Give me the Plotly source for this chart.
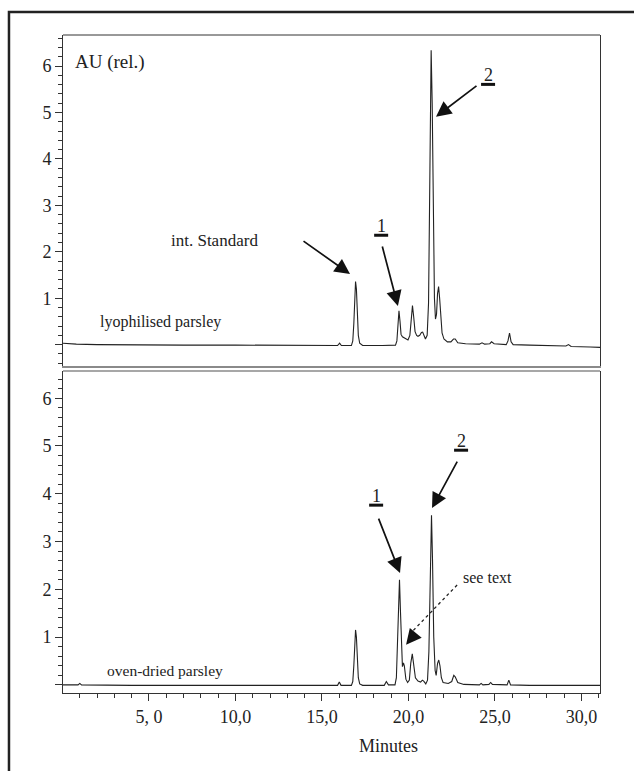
import plotly.graph_objects as go

# ---- data ----
t_lyo = [0.03, 0.8, 2.0, 4.0, 7.0, 10.0, 13.0, 15.0, 15.9, 16.02, 16.12, 16.7, 16.78, 16.84, 16.89, 16.94,
         16.99, 17.04, 17.1, 17.18, 17.35, 18.5, 19.25, 19.33, 19.39, 19.45, 19.51, 19.57, 19.65, 19.75,
         19.87, 19.97, 20.08, 20.16, 20.23, 20.3, 20.38, 20.47, 20.55, 20.65, 20.75, 20.82, 20.9, 20.98,
         21.08, 21.16, 21.24, 21.31, 21.37, 21.43, 21.5, 21.56, 21.62, 21.68, 21.74, 21.8, 21.86, 21.94,
         22.05, 22.25, 22.45, 22.6, 22.7, 22.85, 23.3, 24.1, 24.25, 24.4, 24.7, 24.8, 24.95, 25.65, 25.75,
         25.84, 25.93, 26.05, 27.0, 28.0, 29.1, 29.25, 29.4, 30.5, 31.07]
au_lyo = [0.03, 0.01, 0.0, -0.01, -0.01, -0.01, -0.02, -0.02, -0.02, 0.03, -0.02, -0.02, 0.08, 0.45, 1.05, 1.36,
          1.2, 0.7, 0.2, 0.03, -0.02, -0.02, -0.01, 0.08, 0.4, 0.73, 0.5, 0.22, 0.17, 0.15,
          0.13, 0.1, 0.2, 0.6, 0.84, 0.6, 0.28, 0.2, 0.18, 0.2, 0.26, 0.27, 0.18, 0.12,
          0.2, 0.9, 3.8, 6.34, 5.2, 2.8, 1.0, 0.55, 0.65, 1.1, 1.25, 1.0, 0.55, 0.25,
          0.12, 0.06, 0.06, 0.12, 0.12, 0.04, 0.02, 0.01, 0.04, 0.01, 0.02, 0.06, 0.02, 0.0, 0.08,
          0.25, 0.06, 0.0, -0.01, -0.02, -0.03, 0.0, -0.04, -0.05, -0.06]

t_oven = [0.03, 0.9, 1.0, 1.1, 4.0, 8.0, 12.0, 15.0, 15.9, 16.0, 16.1, 16.7, 16.78, 16.84, 16.89, 16.94,
          16.99, 17.04, 17.1, 17.18, 17.35, 18.6, 18.72, 18.84, 19.22, 19.3, 19.37, 19.43, 19.48, 19.54,
          19.6, 19.65, 19.71, 19.76, 19.85, 19.95, 20.05, 20.13, 20.22, 20.3, 20.4, 20.55, 20.7, 20.8,
          20.88, 21.0, 21.1, 21.18, 21.26, 21.33, 21.39, 21.46, 21.54, 21.6, 21.68, 21.75, 21.82, 21.9,
          22.0, 22.3, 22.5, 22.62, 22.7, 22.85, 23.2, 24.1, 24.2, 24.3, 24.65, 24.75, 24.85, 25.7, 25.8,
          25.9, 27.0, 29.0, 31.07]
au_oven = [0.0, 0.0, 0.03, 0.0, -0.01, -0.01, -0.01, -0.01, -0.01, 0.06, -0.01, -0.01, 0.07, 0.4, 0.9, 1.15,
           1.0, 0.55, 0.15, 0.02, -0.01, -0.01, 0.07, 0.0, 0.0, 0.15, 0.9, 1.8, 2.2, 1.5,
           0.6, 0.38, 0.46, 0.4, 0.12, 0.05, 0.1, 0.45, 0.65, 0.45, 0.15, 0.08, 0.06, 0.1,
           0.08, 0.02, 0.1, 0.7, 2.6, 3.55, 2.6, 1.0, 0.3, 0.2, 0.45, 0.52, 0.4, 0.15,
           0.05, 0.03, 0.07, 0.2, 0.17, 0.05, 0.01, 0.0, 0.03, 0.0, 0.01, 0.05, 0.01, 0.0, 0.1,
           0.0, -0.01, -0.01, -0.01]

x_tickvals = [5, 10, 15, 20, 25, 30]
x_ticktext = ["5, 0", "10,0", "15,0", "20,0", "25,0", "30,0"]
y_tickvals = [0, 1, 2, 3, 4, 5, 6]
y_ticktext = ["", "1", "2", "3", "4", "5", "6"]

FONT = "Liberation Serif"
INK = "#222222"
GRAY = "#8a8a8a"

fig = go.Figure()
fig.add_trace(go.Scatter(x=t_lyo, y=au_lyo, mode="lines", line=dict(color=INK, width=1.1),
                         xaxis="x", yaxis="y", showlegend=False, hoverinfo="skip"))
fig.add_trace(go.Scatter(x=t_oven, y=au_oven, mode="lines", line=dict(color=INK, width=1.1),
                         xaxis="x2", yaxis="y2", showlegend=False, hoverinfo="skip"))

xr = [0.03, 31.07]
yaxis_common = dict(
    showline=True, linecolor="#333333", linewidth=1, mirror=True,
    ticks="outside", ticklen=7, tickwidth=1, tickcolor="#333333",
    tickvals=y_tickvals, ticktext=y_ticktext,
    tickfont=dict(family=FONT, size=18, color=INK),
    minor=dict(dtick=0.2, tick0=0, ticks="outside", ticklen=4, tickcolor="#333333", tickwidth=1),
    showgrid=False, zeroline=False, fixedrange=True,
)

fig.update_layout(
    width=634, height=771,
    margin=dict(l=63, r=34, t=35, b=78),
    paper_bgcolor="white", plot_bgcolor="white",
    xaxis=dict(domain=[0, 1], range=xr, anchor="y", showline=True, linecolor=GRAY, linewidth=2,
               mirror=False, ticks="", showticklabels=False, showgrid=False, zeroline=False),
    yaxis=dict(domain=[0.497, 1.0], range=[-0.46, 6.67], anchor="x", **yaxis_common),
    xaxis2=dict(domain=[0, 1], range=xr, anchor="y2", showline=True, linecolor="#333333", linewidth=1,
                mirror=False, ticks="outside", ticklen=7, tickcolor="#333333",
                tickvals=x_tickvals, ticktext=x_ticktext,
                tickfont=dict(family=FONT, size=18, color=INK),
                minor=dict(dtick=1, tick0=0, ticks="outside", ticklen=4, tickcolor="#333333"),
                showgrid=False, zeroline=False),
    yaxis2=dict(domain=[0, 0.4894], range=[-0.17, 6.57], anchor="x2", **yaxis_common),
)

shapes = [
    # top border of upper panel
    dict(type="line", xref="x domain", yref="y domain", x0=0, x1=1, y0=1, y1=1,
         line=dict(color="#333333", width=1)),
    # top border of lower panel
    dict(type="line", xref="x2 domain", yref="y2 domain", x0=0, x1=1, y0=1, y1=1,
         line=dict(color=GRAY, width=1.5)),
    # outer frame
    dict(type="rect", xref="paper", yref="paper", x0=-0.1006, x1=1.3, y0=-0.4, y1=1.035,
         line=dict(color="#222222", width=2.5), fillcolor="rgba(0,0,0,0)"),
    # dotted leader for "see text"
    dict(type="line", xref="x2", yref="y2", x0=22.81, y0=2.09, x1=20.2, y1=1.11,
         line=dict(color=INK, width=1.3, dash="dot")),
]

ann = []
def text(x, y, s, xref, yref, size=16, xanchor="left"):
    ann.append(dict(x=x, y=y, xref=xref, yref=yref, text=s, showarrow=False, xanchor=xanchor,
                    yanchor="middle", font=dict(family=FONT, size=size, color=INK)))

def number(x, y, s, xref, yref):
    text(x, y, s, xref, yref, size=18, xanchor="center")
    # thick underline below the compound number
    shapes.append(dict(type="line", xref=xref, yref=yref, xsizemode="pixel", ysizemode="pixel",
                       xanchor=x, yanchor=y, x0=-7, x1=7, y0=-9, y1=-9,
                       line=dict(color="#111111", width=3)))

def arrow(x, y, ax, ay, xref, yref):
    ann.append(dict(x=x, y=y, xref=xref, yref=yref, text="", showarrow=True, ax=ax, ay=ay,
                    arrowhead=2, arrowsize=1.8, arrowwidth=1.7, arrowcolor="#111111"))

# upper panel
text(0.61, 6.09, "AU (rel.)", "x", "y", size=19)
text(2.06, 0.49, "lyophilised parsley", "x", "y", size=16)
text(8.76, 2.25, "int. Standard", "x", "y", size=17, xanchor="center")
arrow(16.62, 1.52, -48, -34, "x", "y")
number(18.42, 2.55, "1", "x", "y")
arrow(19.39, 0.83, -16, -61, "x", "y")
number(24.6, 5.8, "2", "x", "y")
arrow(21.59, 4.91, 42, -32, "x", "y")

# lower panel
text(2.46, 0.31, "oven-dried parsley", "x2", "y2", size=15.5)
number(18.13, 3.95, "1", "x2", "y2")
arrow(19.51, 2.34, -22, -56, "x2", "y2")
number(23.04, 5.1, "2", "x2", "y2")
arrow(21.36, 3.70, 26, -48, "x2", "y2")
text(23.04, 2.24, "see text", "x2", "y2", size=16)
arrow(19.86, 0.84, 9, -11, "x2", "y2")

# axis title
ann.append(dict(x=(388 - 63) / 537, y=-0.08, xref="paper", yref="paper", text="Minutes",
                showarrow=False, xanchor="center", yanchor="middle",
                font=dict(family=FONT, size=18, color=INK)))
fig.update_layout(annotations=ann, shapes=shapes)

fig.write_html("out.html")
